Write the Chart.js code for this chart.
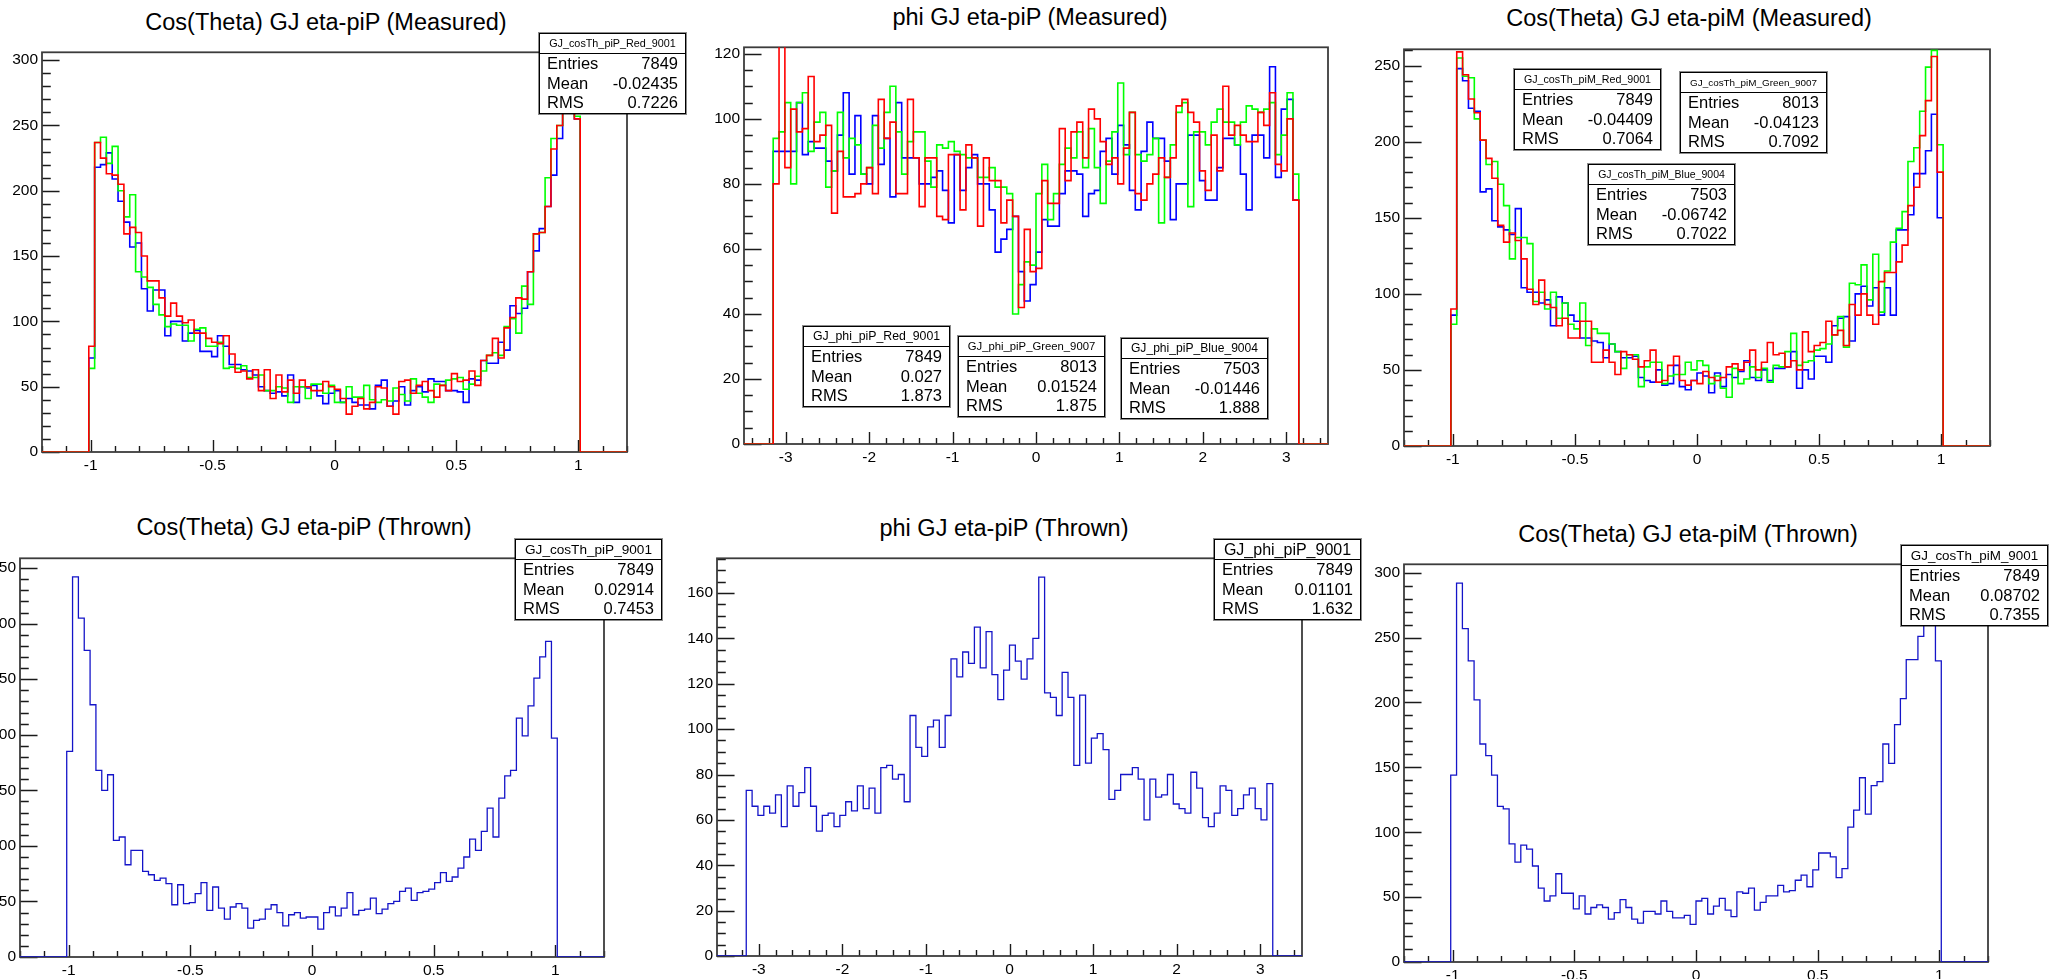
<!DOCTYPE html>
<html>
<head>
<meta charset="utf-8">
<title>GJ angles eta-pi</title>
<script src="https://cdn.jsdelivr.net/npm/chart.js@4.4.0/dist/chart.umd.min.js"></script>
<style>
  html, body { margin: 0; padding: 0; background: #fff; overflow: hidden; }
  body { width: 2050px; height: 979px; position: relative; font-family: 'Liberation Sans', Arial, Helvetica, sans-serif; }
  canvas { position: absolute; }
  .title { position: absolute; font-size: 23.5px; line-height: 23px; white-space: nowrap; transform: translateX(-50%); }
  .stats { position: absolute; width: 147px; background: #fff; border: 1px solid #000; box-shadow: 0 0 0 1px rgba(0,0,0,0.45); box-sizing: border-box; }
  .stats .head { height: 19px; line-height: 19px; border-bottom: 1px solid #000; text-align: center; white-space: nowrap; overflow: hidden; }
  .stats .row { display: flex; justify-content: space-between; padding: 0 7px; font-size: 16.5px; line-height: 19.5px; }
</style>
</head>
<body>
<script>
Chart.defaults.font.family = "'Liberation Sans', Arial, Helvetica, sans-serif";
Chart.defaults.font.size = 15.5;
Chart.defaults.color = '#000';

// TH1 binning used for all plots
const COS_RANGE = [-1.2, 1.2], COS_NBINS = 100, COS_FIRST_BIN = 8;
const PHI_RANGE = [-3.5, 3.5], PHI_NBINS = 100, PHI_FIRST_BIN = 5;

// bin contents (filled bins only), measured eta-piP cos(theta)
const cosPipRed = [81, 237, 225, 213, 212, 205, 167, 172, 168, 150, 131, 131, 118, 104, 114, 104, 99, 101, 91, 91, 87, 84, 83, 89, 75, 61, 62, 56, 63, 47, 63, 41, 59, 46, 55, 45, 55, 50, 47, 47, 54, 50, 48, 41, 29, 35, 41, 33, 38, 50, 49, 35, 29, 54, 55, 45, 51, 54, 47, 42, 51, 47, 60, 54, 55, 62, 51, 70, 74, 87, 72, 95, 103, 118, 117, 138, 167, 168, 188, 232, 250, 268, 291, 255];
const cosPipGreen = [64, 237, 241, 221, 234, 200, 180, 197, 138, 134, 126, 113, 105, 96, 98, 97, 97, 85, 94, 95, 81, 81, 84, 64, 65, 64, 66, 57, 57, 59, 47, 47, 50, 49, 38, 50, 50, 41, 52, 52, 45, 51, 38, 38, 50, 42, 42, 51, 40, 38, 40, 39, 49, 44, 39, 56, 45, 42, 38, 52, 51, 55, 56, 57, 48, 52, 58, 62, 74, 76, 74, 96, 102, 91, 127, 113, 167, 168, 210, 240, 250, 270, 288, 257];
const cosPipBlue = [72, 218, 220, 229, 209, 192, 176, 157, 160, 125, 108, 124, 124, 89, 100, 100, 85, 91, 93, 77, 77, 73, 89, 81, 67, 67, 63, 62, 59, 50, 47, 45, 46, 43, 59, 38, 50, 49, 51, 43, 37, 45, 47, 38, 41, 38, 36, 36, 33, 51, 55, 35, 39, 50, 36, 47, 50, 46, 56, 54, 54, 47, 47, 46, 38, 56, 55, 70, 68, 68, 84, 78, 112, 106, 110, 138, 154, 171, 188, 212, 240, 262, 275, 255];

// measured eta-piP phi
const phiPipRed = [80, 125, 85, 103, 96, 97, 113, 93, 95, 98, 71, 90, 76, 76, 77, 80, 85, 77, 106, 94, 99, 77, 77, 106, 88, 73, 88, 88, 70, 69, 89, 89, 72, 92, 88, 67, 88, 81, 81, 68, 75, 70, 42, 66, 53, 54, 81, 74, 74, 97, 81, 96, 99, 88, 103, 100, 93, 86, 88, 80, 91, 102, 77, 75, 80, 83, 88, 82, 88, 104, 106, 102, 99, 84, 78, 95, 84, 110, 95, 98, 95, 93, 93, 102, 98, 108, 86, 84, 100, 75];
const phiPipGreen = [94, 96, 105, 80, 105, 108, 90, 99, 102, 79, 84, 102, 88, 94, 92, 83, 85, 98, 91, 102, 110, 96, 83, 93, 96, 96, 87, 79, 92, 91, 93, 90, 89, 88, 88, 82, 82, 85, 79, 79, 77, 40, 49, 56, 55, 77, 86, 69, 77, 86, 91, 88, 96, 85, 97, 85, 74, 87, 96, 111, 89, 102, 89, 87, 89, 94, 68, 82, 92, 102, 105, 73, 96, 96, 92, 99, 103, 99, 99, 92, 99, 104, 103, 102, 103, 105, 89, 95, 108, 83];
const phiPipBlue = [90, 90, 90, 90, 105, 89, 93, 91, 91, 87, 84, 95, 108, 83, 101, 83, 80, 101, 86, 94, 76, 105, 88, 88, 88, 80, 80, 82, 84, 78, 68, 89, 78, 85, 89, 80, 80, 72, 59, 63, 66, 70, 53, 44, 49, 59, 69, 67, 67, 77, 84, 84, 83, 70, 77, 78, 90, 94, 83, 98, 92, 78, 72, 90, 99, 94, 94, 87, 69, 80, 80, 95, 95, 81, 75, 75, 85, 94, 94, 92, 83, 72, 95, 95, 88, 116, 82, 103, 106, 75];

// measured eta-piM cos(theta)
const cosPimRed = [90, 259, 244, 228, 219, 201, 189, 176, 145, 134, 140, 135, 123, 103, 93, 109, 93, 91, 79, 84, 71, 71, 82, 82, 55, 55, 63, 55, 47, 62, 60, 57, 52, 56, 63, 42, 43, 53, 59, 43, 40, 43, 41, 49, 45, 43, 45, 52, 54, 50, 55, 63, 50, 55, 68, 60, 61, 52, 56, 50, 75, 62, 66, 68, 82, 73, 76, 66, 93, 86, 100, 86, 80, 108, 114, 114, 121, 132, 158, 170, 204, 227, 256, 180];
const cosPimGreen = [80, 255, 243, 242, 215, 201, 185, 187, 172, 158, 123, 137, 137, 133, 95, 101, 90, 101, 84, 94, 80, 77, 94, 66, 77, 74, 74, 67, 62, 51, 60, 60, 39, 52, 55, 55, 41, 46, 47, 47, 55, 50, 56, 53, 41, 46, 38, 32, 51, 41, 44, 52, 45, 51, 42, 53, 52, 62, 74, 53, 55, 56, 63, 64, 67, 73, 85, 65, 107, 106, 119, 96, 126, 88, 115, 134, 143, 154, 187, 196, 220, 249, 260, 198];
const cosPimBlue = [86, 248, 240, 222, 220, 167, 169, 148, 144, 142, 139, 156, 104, 101, 101, 94, 96, 79, 98, 94, 86, 82, 71, 71, 69, 68, 58, 67, 62, 58, 58, 59, 45, 43, 42, 50, 40, 41, 53, 39, 37, 43, 48, 46, 35, 48, 39, 47, 45, 49, 56, 45, 43, 50, 43, 51, 51, 52, 62, 38, 50, 44, 59, 59, 55, 79, 84, 85, 69, 100, 105, 92, 104, 86, 104, 86, 142, 142, 152, 179, 179, 194, 218, 150];

// thrown (generated) distributions
const cosPipThrown = [185, 342, 305, 276, 227, 168, 150, 164, 105, 108, 83, 96, 96, 77, 74, 69, 71, 66, 47, 65, 48, 49, 57, 67, 42, 63, 44, 34, 45, 48, 44, 26, 33, 34, 43, 47, 40, 28, 38, 40, 35, 36, 36, 25, 40, 45, 37, 44, 58, 38, 42, 43, 53, 39, 43, 48, 50, 59, 62, 51, 58, 59, 61, 67, 76, 68, 72, 80, 90, 106, 96, 113, 134, 108, 143, 163, 168, 215, 199, 226, 251, 270, 284, 197];
const phiPipThrown = [73, 66, 62, 66, 63, 71, 57, 75, 66, 72, 83, 66, 55, 62, 63, 57, 62, 68, 64, 75, 65, 74, 63, 83, 84, 78, 80, 68, 106, 92, 88, 101, 104, 92, 106, 131, 123, 134, 129, 145, 127, 143, 124, 113, 126, 137, 130, 122, 131, 140, 167, 116, 114, 106, 125, 114, 84, 115, 85, 96, 98, 91, 69, 73, 80, 80, 83, 78, 60, 78, 70, 71, 80, 67, 65, 63, 81, 74, 61, 57, 63, 75, 73, 62, 65, 71, 74, 65, 60, 76];
const cosPimThrown = [144, 292, 257, 232, 202, 168, 159, 144, 120, 118, 91, 77, 90, 87, 74, 57, 47, 51, 68, 53, 53, 41, 51, 37, 42, 44, 42, 33, 38, 48, 42, 33, 30, 39, 39, 37, 47, 39, 34, 34, 36, 29, 47, 49, 37, 43, 49, 40, 35, 54, 53, 57, 40, 46, 51, 51, 59, 54, 55, 63, 67, 58, 71, 84, 84, 81, 65, 72, 104, 117, 142, 114, 136, 139, 168, 153, 183, 203, 233, 233, 251, 268, 285, 232];

// labelled tick positions
const cosLabels = [-1, -0.5, 0, 0.5, 1];
const phiLabels = [-3, -2, -1, 0, 1, 2, 3];

// stat boxes: name, entries, mean, rms
const statsCosPip = [["GJ_cosTh_piP_Red_9001", "7849", "-0.02435", "0.7226"]];
const statsPhiPip = [
  ["GJ_phi_piP_Red_9001", "7849", "0.027", "1.873"],
  ["GJ_phi_piP_Green_9007", "8013", "0.01524", "1.875"],
  ["GJ_phi_piP_Blue_9004", "7503", "-0.01446", "1.888"]
];
const statsCosPim = [
  ["GJ_cosTh_piM_Red_9001", "7849", "-0.04409", "0.7064"],
  ["GJ_cosTh_piM_Green_9007", "8013", "-0.04123", "0.7092"],
  ["GJ_cosTh_piM_Blue_9004", "7503", "-0.06742", "0.7022"]
];
const statsCosPipThrown = [["GJ_cosTh_piP_9001", "7849", "0.02914", "0.7453"]];
const statsPhiPipThrown = [["GJ_phi_piP_9001", "7849", "0.01101", "1.632"]];
const statsCosPimThrown = [["GJ_cosTh_piM_9001", "7849", "0.08702", "0.7355"]];

const RED = '#ff0000', GREEN = '#00ff00', BLUE = '#0000ff', THROWN = '#1414c8';

const COS_AXIS = { range: COS_RANGE, nbins: COS_NBINS, first: COS_FIRST_BIN, labels: cosLabels, minor: 0.1, major: 0.5 };
const PHI_AXIS = { range: PHI_RANGE, nbins: PHI_NBINS, first: PHI_FIRST_BIN, labels: phiLabels, minor: 0.2, major: 1 };

// frame = [left, top, right, bottom] of the plot box on the page
const panels = [
  { title: 'Cos(Theta) GJ eta-piP (Measured)', titlePos: [326, 30], frame: [42, 51, 627, 452],
    axis: COS_AXIS, ymax: 306, yMajor: 50, yMinor: 10, width: 1.6,
    series: [[cosPipRed, RED], [cosPipGreen, GREEN], [cosPipBlue, BLUE]],
    stats: statsCosPip, boxes: [[539, 33]] },
  { title: 'phi GJ eta-piP (Measured)', titlePos: [1030, 25.5], frame: [744, 46, 1328, 444],
    axis: PHI_AXIS, ymax: 122, yMajor: 20, yMinor: 5, width: 1.6,
    series: [[phiPipRed, RED], [phiPipGreen, GREEN], [phiPipBlue, BLUE]],
    stats: statsPhiPip, boxes: [[803, 326], [958, 336], [1121, 338]] },
  { title: 'Cos(Theta) GJ eta-piM (Measured)', titlePos: [1689, 26.5], frame: [1404, 48, 1990, 446],
    axis: COS_AXIS, ymax: 260.7, yMajor: 50, yMinor: 10, width: 1.6,
    series: [[cosPimRed, RED], [cosPimGreen, GREEN], [cosPimBlue, BLUE]],
    stats: statsCosPim, boxes: [[1514, 69], [1680, 72], [1588, 164]] },
  { title: 'Cos(Theta) GJ eta-piP (Thrown)', titlePos: [304, 535.5], frame: [20, 557, 604, 957],
    axis: COS_AXIS, ymax: 358.8, yMajor: 50, yMinor: 10, width: 1.3,
    series: [[cosPipThrown, THROWN]],
    stats: statsCosPipThrown, boxes: [[515, 539]] },
  { title: 'phi GJ eta-piP (Thrown)', titlePos: [1004, 536.5], frame: [717, 557, 1302, 956],
    axis: PHI_AXIS, ymax: 175.3, yMajor: 20, yMinor: 5, width: 1.3,
    series: [[phiPipThrown, THROWN]],
    stats: statsPhiPipThrown, boxes: [[1214, 539]] },
  { title: 'Cos(Theta) GJ eta-piM (Thrown)', titlePos: [1688, 542.5], frame: [1404, 563, 1988, 962],
    axis: COS_AXIS, ymax: 306.5, yMajor: 50, yMinor: 10, width: 1.3,
    series: [[cosPimThrown, THROWN]],
    stats: statsCosPimThrown, boxes: [[1901, 545]] }
];

// step outline of a histogram: zero outside the filled bins
function histPoints(counts, axis) {
  const [lo, hi] = axis.range;
  const w = (hi - lo) / axis.nbins;
  const pts = [{ x: lo, y: 0 }];
  counts.forEach((c, i) => pts.push({ x: lo + (axis.first + i) * w, y: c }));
  pts.push({ x: lo + (axis.first + counts.length) * w, y: 0 });
  pts.push({ x: hi, y: 0 });
  return pts;
}

function steps(min, max, step) {
  const out = [];
  for (let k = Math.ceil(min / step - 1e-9); k * step <= max + 1e-9; k++) out.push(+(k * step).toFixed(6));
  return out;
}

function isMajor(v, major) {
  return Math.abs(v / major - Math.round(v / major)) < 1e-6;
}

// ROOT style frame with ticks pointing into the plot
const rootAxes = {
  id: 'rootAxes',
  beforeDatasetsDraw(chart, args, opts) {
    const { ctx, chartArea: a, scales: { x, y } } = chart;
    const xLen = 0.03 * (a.bottom - a.top);
    const yLen = 0.03 * (a.right - a.left);
    ctx.save();
    ctx.strokeStyle = '#1a1a1a';
    ctx.lineWidth = 1.4;
    ctx.beginPath();
    steps(x.min, x.max, opts.xMinor).forEach(v => {
      const px = Math.round(x.getPixelForValue(v)) + 0.5;
      ctx.moveTo(px, a.bottom);
      ctx.lineTo(px, a.bottom - (isMajor(v, opts.xMajor) ? xLen : xLen / 2));
    });
    steps(0, y.max, opts.yMinor).forEach(v => {
      const py = Math.round(y.getPixelForValue(v)) + 0.5;
      ctx.moveTo(a.left, py);
      ctx.lineTo(a.left + (isMajor(v, opts.yMajor) ? yLen : yLen / 2), py);
    });
    ctx.stroke();
    ctx.strokeStyle = '#3c3c3c';
    ctx.lineWidth = 1.8;
    ctx.strokeRect(a.left, a.top, a.right - a.left, a.bottom - a.top);
    ctx.restore();
  }
};

const measure = document.createElement('canvas').getContext('2d');
function fitFont(text, width, maxSize) {
  measure.font = "100px 'Liberation Sans', Arial, sans-serif";
  return Math.min(maxSize, 100 * width / measure.measureText(text).width);
}

function drawPanel(p) {
  const [L, T, R, B] = p.frame;
  const YW = 60, XH = 32, PAD = 12;

  const canvas = document.createElement('canvas');
  canvas.width = R - L + YW + PAD;
  canvas.height = B - T + PAD + XH;
  canvas.style.left = (L - YW) + 'px';
  canvas.style.top = (T - PAD) + 'px';
  document.body.appendChild(canvas);

  new Chart(canvas, {
    type: 'line',
    data: {
      datasets: p.series.map(([counts, color]) => ({
        data: histPoints(counts, p.axis),
        borderColor: color,
        borderWidth: p.width,
        pointRadius: 0,
        fill: false,
        stepped: 'before',
        borderJoinStyle: 'miter'
      }))
    },
    options: {
      responsive: false,
      animation: false,
      events: [],
      layout: { padding: { top: PAD, right: PAD, left: 0, bottom: 0 }, autoPadding: false },
      plugins: {
        legend: { display: false },
        tooltip: { enabled: false },
        rootAxes: { xMinor: p.axis.minor, xMajor: p.axis.major, yMinor: p.yMinor, yMajor: p.yMajor }
      },
      scales: {
        x: {
          type: 'linear',
          min: p.axis.range[0],
          max: p.axis.range[1],
          grid: { display: false, drawTicks: false },
          border: { display: false },
          afterBuildTicks: s => { s.ticks = p.axis.labels.map(v => ({ value: v })); },
          afterFit: s => { s.height = XH; },
          ticks: { padding: 4, autoSkip: false, maxRotation: 0, callback: v => String(v) }
        },
        y: {
          type: 'linear',
          min: 0,
          max: p.ymax,
          grid: { display: false, drawTicks: false },
          border: { display: false },
          afterBuildTicks: s => { s.ticks = steps(0, p.ymax, p.yMajor).map(v => ({ value: v })); },
          afterFit: s => { s.width = YW; },
          ticks: { padding: 4, autoSkip: false, callback: v => String(v) }
        }
      }
    },
    plugins: [rootAxes]
  });

  const title = document.createElement('div');
  title.className = 'title';
  title.textContent = p.title;
  title.style.left = p.titlePos[0] + 'px';
  title.style.top = (p.titlePos[1] - 19.5) + 'px';
  document.body.appendChild(title);

  p.stats.forEach((s, i) => {
    const [left, top] = p.boxes[i];
    const box = document.createElement('div');
    box.className = 'stats';
    box.style.left = left + 'px';
    box.style.top = top + 'px';
    box.innerHTML = `
      <div class="head" style="font-size:${fitFont(s[0], 127, 16.5).toFixed(1)}px">${s[0]}</div>
      <div class="row"><span>Entries</span><span>${s[1]}</span></div>
      <div class="row"><span>Mean</span><span>${s[2]}</span></div>
      <div class="row"><span>RMS</span><span>${s[3]}</span></div>
    `;
    document.body.appendChild(box);
  });
}

panels.forEach(drawPanel);
</script>
</body>
</html>
